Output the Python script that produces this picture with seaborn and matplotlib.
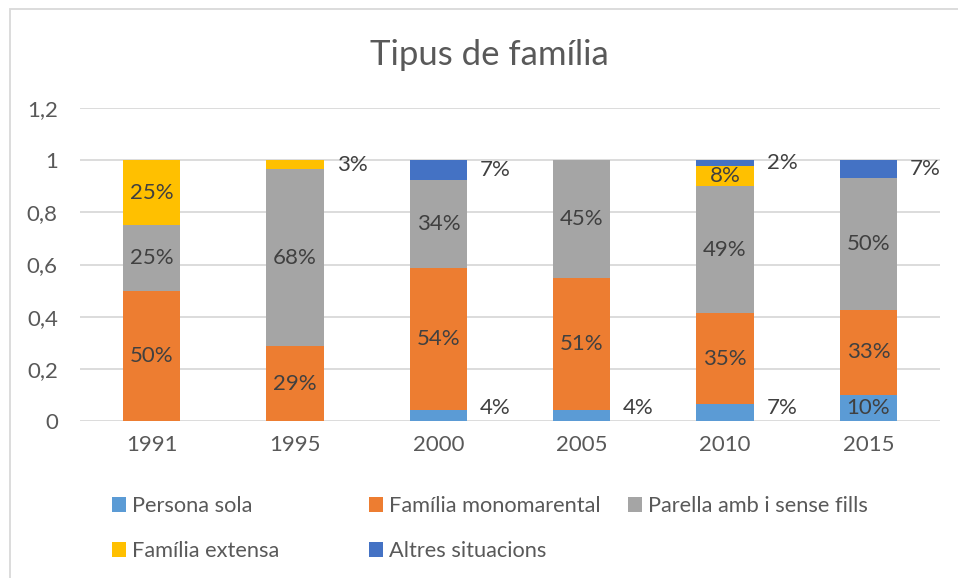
import numpy as np
import pandas as pd
import matplotlib
matplotlib.use("Agg")
import matplotlib.pyplot as plt
from matplotlib.patches import Patch, Rectangle
import seaborn as sns

years = ["1991", "1995", "2000", "2005", "2010", "2015"]
persona_sola = [0.0, 0.0, 0.044, 0.041, 0.066, 0.100]
familia_monomarental = [0.50, 0.286, 0.543, 0.507, 0.347, 0.326]
parella = [0.25, 0.680, 0.338, 0.452, 0.487, 0.504]
familia_extensa = [0.25, 0.034, 0.0, 0.0, 0.079, 0.0]
altres = [0.0, 0.0, 0.074, 0.0, 0.021, 0.070]
series_names = ["Persona sola", "Família monomarental", "Parella amb i sense fills",
                "Família extensa", "Altres situacions"]
yticks = [0, 0.2, 0.4, 0.6, 0.8, 1.0, 1.2]
ytick_labels = ["0", "0,2", "0,4", "0,6", "0,8", "1", "1,2"]

colors = ["#5B9BD5", "#ED7D31", "#A5A5A5", "#FFC000", "#4472C4"]
series = [persona_sola, familia_monomarental, parella, familia_extensa, altres]

sns.set_style("white")
plt.rcParams["font.family"] = ["Lato", "DejaVu Sans"]
TXT = "#595959"
LBL = "#404040"
FS = 16
LFS = 15.7

fig = plt.figure(figsize=(9.58, 5.78), dpi=100)
ax = fig.add_axes([80/958, 157/578, 860/958, 313/578])

vals = np.array(series)
cum = np.cumsum(vals, axis=0)
# draw from top layer down so lower layers overlay
for k in range(len(series) - 1, -1, -1):
    df = pd.DataFrame({"year": years, "v": cum[k]})
    sns.barplot(data=df, x="year", y="v", order=years, color=colors[k],
                saturation=1, width=0.4, ax=ax, linewidth=0, zorder=3)

ax.set_xlim(-0.5, 5.5)
ax.set_ylim(0, 1.2)
ax.set_yticks(yticks)
ax.set_yticklabels(ytick_labels)
ax.set_xlabel("")
ax.set_ylabel("")
ax.grid(axis="y", color="#D9D9D9", linewidth=1.3, zorder=0)
ax.set_axisbelow(True)
for s in ax.spines.values():
    s.set_visible(False)
ax.tick_params(axis="both", length=0, labelsize=FS, labelcolor=TXT)
ax.tick_params(axis="y", pad=16)
ax.tick_params(axis="x", pad=10)

# data labels
for i in range(len(years)):
    for k in range(len(series)):
        v = vals[k, i]
        if v <= 0:
            continue
        lab = f"{round(v*100):.0f}%"
        bottom = cum[k, i] - v
        mid = bottom + v / 2
        if v >= 0.09 or (k == 3 and i == 4):
            ax.text(i, mid, lab, ha="center", va="center", fontsize=FS, color=LBL, zorder=5)
        else:
            y = max(mid, 0.05)
            ax.text(i + 0.29, y, lab, ha="left", va="center", fontsize=FS, color=LBL, zorder=5)

fig.text(0.511, 1 - 55/578, "Tipus de família", ha="center", va="center",
         fontsize=25, color=TXT)

# legend entries (Excel-like fixed column grid)
pos = [(112, 506), (369, 506), (628, 506), (112, 551), (369, 551)]
for j, (xpx, ypx) in enumerate(pos):
    h = Patch(facecolor=colors[j], edgecolor="none")
    fig.legend([h], [series_names[j]], loc="center left",
               bbox_to_anchor=(xpx/958, 1 - ypx/578),
               frameon=False, fontsize=LFS, labelcolor=TXT,
               handlelength=0.64, handleheight=0.64, handletextpad=0.3,
               borderpad=0, borderaxespad=0)

fig.patches.append(Rectangle((10/958, -0.05), 1.2, 0.05 + 1 - 9/578, transform=fig.transFigure,
                             fill=False, edgecolor="#D9D9D9", linewidth=1.3))

fig.savefig("out.png", dpi=100)
